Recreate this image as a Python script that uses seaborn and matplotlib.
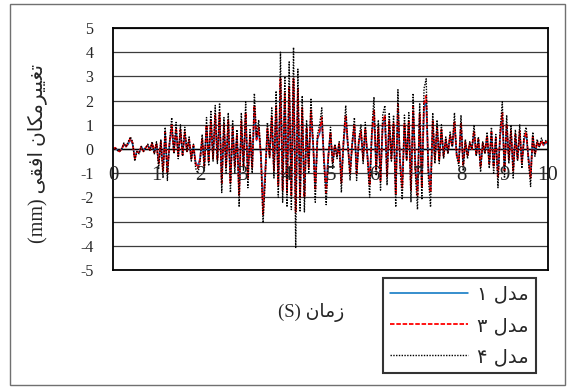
import numpy as np
import pandas as pd
import seaborn as sns
import matplotlib.pyplot as plt
from matplotlib.patches import Rectangle

# sampling step of the records (s)
dt = 0.05

# horizontal displacement (mm), every 0.05 s
mdl4 = [
    0.0, 0.05, -0.05, -0.1, 0.0, 0.25, 0.1, 0.3, 0.5, 0.3,
    -0.5, -0.1, -0.2, 0.1, -0.1, 0.05, 0.2, -0.05, 0.3, -0.2,
    0.3, -0.8, 0.4, -1.2, 0.9, -1.3, 0.3, 1.3, -0.2, 1.1,
    -0.4, 1.0, -0.3, 0.9, -0.1, 0.5, -0.5, 0.2, -0.8, -1.0,
    -0.6, 0.6, -0.9, 1.3, -0.7, 1.6, -0.5, 1.8, -0.6, 1.9,
    -1.8, 1.3, -1.0, 1.5, -1.8, 1.2, -1.0, 0.8, -2.4, 1.5,
    -0.9, 1.95, -1.6, 0.8, -1.0, 2.3, 0.5, 1.2, -0.3, -3.05,
    -1.3, 1.1, -0.4, 1.7, -1.2, 2.4, -2.0, 4.0, -2.2, 3.0,
    -2.4, 3.6, -2.5, 4.2, -4.1, 3.3, -2.6, 2.2, -2.6, 1.2,
    -1.0, 2.1, 0.3, -2.2, 0.6, 1.0, 1.7, -0.6, -2.3, -0.4,
    0.9, -0.8, 0.2, -0.4, 0.3, -1.8, 0.4, 1.8, 0.2, -1.3,
    0.3, 1.3, -1.3, 0.4, 1.0, -0.6, 1.1, -0.4, -2.0, 0.8,
    2.15, -1.1, 1.2, -1.7, 1.4, 1.8, -1.5, 1.5, -0.5, 1.4,
    -2.4, 2.45, -0.8, -2.1, 1.4, -0.5, 1.5, -2.2, 2.3, -1.0,
    -2.5, 1.9, -2.1, 2.5, 2.9, -1.2, -2.4, 1.5, -0.6, 1.2,
    -0.6, 1.0, -0.4, 0.5, -0.2, 0.7, 0.1, 1.5, -0.3, -0.7,
    1.4, -0.9, 0.4, -0.4, 0.3, 0.0, 1.0, -0.3, 0.5, -0.95,
    0.3, -0.2, 0.7, -0.8, 0.9, -1.0, 0.6, -1.6, 0.8, 1.95,
    -1.2, 1.4, -0.6, 1.0, -1.2, 0.8, -0.5, 1.0, -0.8, 0.6,
    0.9, -0.5, -1.55, 0.7, -0.3, 0.4, 0.1, 0.45, 0.2, 0.35,
    0.3,
]

mdl3 = [
    0.0, 0.05, -0.05, -0.1, 0.0, 0.2, 0.1, 0.25, 0.45, 0.25,
    -0.4, -0.1, -0.15, 0.1, -0.1, 0.05, 0.15, -0.05, 0.25, -0.15,
    0.25, -0.6, 0.3, -0.9, 0.7, -1.0, 0.25, 1.0, -0.15, 0.85,
    -0.3, 0.8, -0.25, 0.7, -0.1, 0.4, -0.4, 0.15, -0.6, -0.8,
    -0.45, 0.45, -0.7, 1.0, -0.55, 1.2, -0.4, 1.4, -0.45, 1.5,
    -1.4, 1.0, -0.75, 1.2, -1.4, 0.9, -0.75, 0.6, -1.9, 1.15,
    -0.7, 1.5, -1.2, 0.6, -0.75, 1.8, 0.4, 0.9, -0.25, -2.7,
    -1.0, 0.85, -0.3, 1.3, -0.9, 1.8, -1.5, 2.9, -1.7, 2.3,
    -1.8, 2.6, -1.9, 2.9, -2.6, 2.5, -2.0, 1.7, -2.0, 0.9,
    -0.75, 1.6, 0.25, -1.7, 0.45, 0.75, 1.3, -0.45, -1.8, -0.3,
    0.7, -0.6, 0.15, -0.3, 0.25, -1.4, 0.3, 1.4, 0.15, -1.0,
    0.25, 1.0, -1.0, 0.3, 0.75, -0.45, 0.85, -0.3, -1.5, 0.6,
    1.65, -0.85, 0.9, -1.3, 1.05, 1.4, -1.15, 1.15, -0.4, 1.05,
    -1.85, 1.85, -0.6, -1.6, 1.05, -0.4, 1.15, -1.7, 1.75, -0.75,
    -1.9, 1.45, -1.6, 1.9, 2.2, -0.9, -1.8, 1.15, -0.45, 0.9,
    -0.45, 0.8, -0.3, 0.4, -0.15, 0.55, 0.1, 1.15, -0.25, -0.55,
    1.1, -0.7, 0.3, -0.3, 0.25, 0.0, 0.75, -0.25, 0.4, -0.75,
    0.25, -0.15, 0.55, -0.6, 0.7, -0.75, 0.45, -1.2, 0.6, 1.5,
    -0.9, 1.05, -0.45, 0.75, -0.9, 0.6, -0.4, 0.75, -0.6, 0.45,
    0.7, -0.4, -1.2, 0.55, -0.25, 0.3, 0.1, 0.35, 0.15, 0.3,
    0.25,
]

mdl1 = [
    0.0, 0.05, -0.05, -0.1, 0.0, 0.2, 0.1, 0.2, 0.4, 0.2,
    -0.35, -0.1, -0.15, 0.1, -0.05, 0.05, 0.15, 0.0, 0.2, -0.15,
    0.2, -0.55, 0.25, -0.8, 0.6, -0.9, 0.2, 0.9, -0.1, 0.75,
    -0.25, 0.7, -0.2, 0.6, -0.05, 0.35, -0.35, 0.1, -0.55, -0.7,
    -0.4, 0.4, -0.6, 0.9, -0.5, 1.05, -0.35, 1.25, -0.4, 1.3,
    -1.25, 0.9, -0.65, 1.05, -1.25, 0.8, -0.65, 0.55, -1.7, 1.0,
    -0.6, 1.35, -1.05, 0.55, -0.65, 1.6, 0.35, 0.8, -0.2, -2.4,
    -0.9, 0.75, -0.25, 1.15, -0.8, 1.6, -1.35, 2.6, -1.5, 2.05,
    -1.6, 2.3, -1.7, 2.6, -2.3, 2.2, -1.8, 1.5, -1.8, 0.8,
    -0.65, 1.4, 0.2, -1.5, 0.4, 0.65, 1.15, -0.4, -1.6, -0.25,
    0.6, -0.55, 0.15, -0.25, 0.2, -1.25, 0.25, 1.25, 0.1, -0.9,
    0.2, 0.9, -0.9, 0.25, 0.65, -0.4, 0.75, -0.25, -1.35, 0.55,
    1.45, -0.75, 0.8, -1.15, 0.95, 1.25, -1.0, 1.0, -0.35, 0.95,
    -1.65, 1.65, -0.55, -1.4, 0.95, -0.35, 1.0, -1.5, 1.55, -0.65,
    -1.7, 1.3, -1.4, 1.7, 1.95, -0.8, -1.6, 1.0, -0.4, 0.8,
    -0.4, 0.7, -0.25, 0.35, -0.15, 0.5, 0.1, 1.0, -0.2, -0.5,
    1.0, -0.6, 0.25, -0.25, 0.2, 0.0, 0.65, -0.2, 0.35, -0.65,
    0.2, -0.15, 0.5, -0.55, 0.6, -0.65, 0.4, -1.05, 0.55, 1.3,
    -0.8, 0.95, -0.4, 0.65, -0.8, 0.55, -0.35, 0.65, -0.55, 0.4,
    0.6, -0.35, -1.05, 0.5, -0.2, 0.25, 0.1, 0.3, 0.15, 0.25,
    0.2,
]

x_ticks = [0, 1, 2, 3, 4, 5, 6, 7, 8, 9, 10]
y_ticks = [5, 4, 3, 2, 1, 0, -1, -2, -3, -4, -5]

# Persian labels, written in visual order with joined letter forms
lbl_m1 = '\u06F1 \uFEDD\uFEAA\uFEE3'      # مدل ۱
lbl_m3 = '\u06F3 \uFEDD\uFEAA\uFEE3'      # مدل ۳
lbl_m4 = '\u06F4 \uFEDD\uFEAA\uFEE3'      # مدل ۴
x_title = '(S) \uFEE5\uFE8E\uFEE3\uFEAF'  # زمان (S)
y_title = ('(mm) \uFBFD\uFED8\uFED3\uFE8D '
           '\uFEE5\uFE8E\uFB91\uFEE3\uFEAE\uFBFF\uFBFF\uFED0\uFE97')  # تغییرمکان افقی (mm)

time = np.round(np.arange(len(mdl4)) * dt, 2)
df = pd.DataFrame({'t': time, 'm1': mdl1, 'm3': mdl3, 'm4': mdl4})

sns.set_style('white')
plt.rcParams['font.family'] = ['Liberation Serif', 'DejaVu Sans']

fig = plt.figure(figsize=(5.7, 3.87), dpi=100)
ax = fig.add_axes([113 / 570, 1 - 270 / 387, 435 / 570, 242 / 387])

sns.lineplot(data=df, x='t', y='m1', ax=ax, color='#0070C0', lw=1.1, label=lbl_m1)
sns.lineplot(data=df, x='t', y='m3', ax=ax, color='#FF0000', lw=1.3,
             linestyle=(0, (2.5, 1)), label=lbl_m3)
sns.lineplot(data=df, x='t', y='m4', ax=ax, color='black', lw=1.0,
             linestyle=(0, (1, 1)), label=lbl_m4)

ax.set_xlim(0, 10)
ax.set_ylim(-5, 5)
ax.set_yticks(y_ticks)
ax.set_yticklabels([str(v) for v in y_ticks], fontsize=11.5)
ax.tick_params(axis='y', length=0, pad=14)
ax.set_xticks([])
ax.set_xlabel('')
ax.set_ylabel('')
for v in y_ticks:
    ax.axhline(v, color='#3c3c3c', lw=0.9, zorder=0)
ax.axhline(0, color='black', lw=1.0, zorder=0.5)
for s in ax.spines.values():
    s.set_color('black')
    s.set_linewidth(1.3)

# x tick labels sit just under the zero line, as in the original
for v in x_ticks:
    ax.text(v, -0.7, str(v), ha='center', va='top', fontsize=15, clip_on=False)

ax.get_legend().remove()
handles, labels = ax.get_legend_handles_labels()
leg = fig.legend(handles, labels, loc='upper left',
                 bbox_to_anchor=(383 / 570, 1 - 278 / 387),
                 prop={'family': ['DejaVu Sans'], 'size': 14},
                 frameon=True, fancybox=False, edgecolor='black',
                 handlelength=4.0, handletextpad=0.5, labelspacing=0.62,
                 borderpad=0.35, borderaxespad=0)
leg.get_frame().set_linewidth(1.5)

fig.text(311 / 570, 1 - 313 / 387, x_title, ha='center', va='center', fontsize=13.5,
         family=['Liberation Serif', 'DejaVu Sans'])
fig.text(37 / 570, 1 - 153 / 387, y_title, ha='center', va='center', rotation=90,
         fontsize=14.5, family=['Liberation Serif', 'DejaVu Sans'])

fig.patches.append(Rectangle((10 / 570, 2 / 387), 555 / 570, 381 / 387,
                             transform=fig.transFigure, fill=False,
                             edgecolor='#707070', lw=1.0))

fig.savefig('out.png', dpi=100)
